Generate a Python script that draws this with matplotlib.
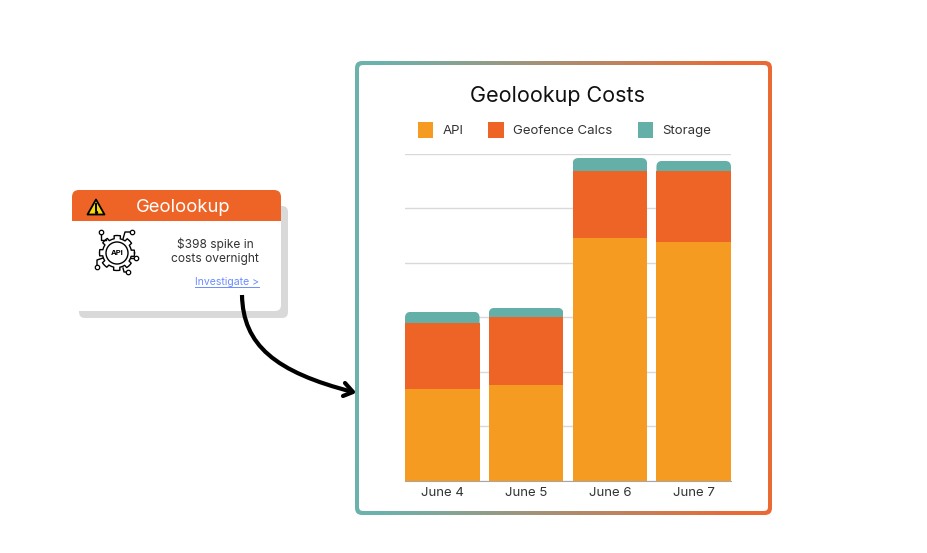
import numpy as np
import matplotlib
matplotlib.use("Agg")
import matplotlib.pyplot as plt
from matplotlib.patches import FancyBboxPatch, PathPatch, Polygon, Circle, Rectangle
from matplotlib.path import Path
from matplotlib.colors import LinearSegmentedColormap

W, H = 927, 553

days = ["June 4", "June 5", "June 6", "June 7"]
api = [253, 264, 669, 658]
geofence = [182, 187, 184, 194]
storage = [30, 25, 36, 29]
y_ticks = [0, 150, 300, 450, 600, 750, 900]

ORANGE = "#f59b22"
RED = "#ed6426"
TEAL = "#64b0a9"
GRID = "#d9d9d9"

plt.rcParams["font.family"] = ["Inter", "DejaVu Sans"]
fig = plt.figure(figsize=(W / 100, H / 100), dpi=100)

# overlay in pixel coordinates for the card, frame and arrow
bg = fig.add_axes([0, 0, 1, 1])
bg.set_xlim(0, W)
bg.set_ylim(H, 0)
bg.axis("off")


def rbox(x0, y0, x1, y1, r, **kw):
    p = FancyBboxPatch((x0 + r, y0 + r), x1 - x0 - 2 * r, y1 - y0 - 2 * r,
                       boxstyle=f"round,pad={r},rounding_size={r}", **kw)
    bg.add_patch(p)
    return p


# gradient frame
cmap = LinearSegmentedColormap.from_list("frame", [(0, "#6bb2ac"), (0.06, "#6bb2ac"), (0.92, "#ea6a34"), (1, "#ea6a34")])
outer = rbox(355, 61, 772, 515, 7, fc="none", ec="none")
grad = np.linspace(0, 1, 256).reshape(1, 256)
im = bg.imshow(grad, extent=[355, 772, 515, 61], cmap=cmap, aspect="auto", zorder=1)
im.set_clip_path(outer)
bg.set_xlim(0, W)
bg.set_ylim(H, 0)
rbox(359, 65, 768, 511, 4, fc="white", ec="none", zorder=2)

# alert card
rbox(79, 206, 288, 318, 6, fc="#d9d9d9", ec="none", zorder=1)
rbox(72, 190, 281, 311, 6, fc="white", ec="none", zorder=2)
head = rbox(72, 190, 281, 240, 7, fc="none", ec="none")
r = Rectangle((72, 190), 209, 31, fc=RED, ec="none", zorder=3)
bg.add_patch(r)
r.set_clip_path(head)
bg.text(183.5, 207.5, "Geolookup", color="white", fontsize=13.3, ha="center", va="center", zorder=4)
bg.add_patch(Polygon([(96, 199.5), (104.5, 214.5), (87.5, 214.5)], closed=True, fc="#f5d90a", ec="black",
                     lw=1.3, joinstyle="round", zorder=4))
bg.plot([96, 96], [204, 210], color="black", lw=1.4, zorder=5)
bg.plot([96], [212.3], marker="o", ms=1.4, color="black", zorder=5)
bg.text(215, 244, "$398 spike in", color="#333333", fontsize=8.6, ha="center", va="center", zorder=4)
bg.text(215, 259, "costs overnight", color="#333333", fontsize=8.6, ha="center", va="center", zorder=4)
bg.text(259, 282, "Investigate >", color="#6a8cff", fontsize=7.5, ha="right", va="center", zorder=4)
bg.plot([195, 259], [286.5, 286.5], color="#6a8cff", lw=0.7, zorder=4)

# gear icon
cx, cy = 117, 253
ang = np.linspace(0, 2 * np.pi, 193)
rad = 14.5 + 3 * (np.cos(8 * ang) > 0)
bg.plot(cx + rad * np.cos(ang), cy + rad * np.sin(ang), color="black", lw=1.0, zorder=4)
bg.add_patch(Circle((cx, cy), 11, fc="white", ec="black", lw=1.0, zorder=4))
bg.text(cx, cy, "API", color="black", fontsize=5.5, fontweight="bold", ha="center", va="center", zorder=5)
for xs, ys in [([101, 101, 106], [232, 240, 240]), ([132, 125, 123], [232, 232, 239]),
               ([136, 131], [258, 258]), ([97, 97, 103], [267, 260, 258]),
               ([128, 124, 123], [272, 272, 268])]:
    bg.plot(xs, ys, color="black", lw=1.0, zorder=4)
    bg.plot(xs[0], ys[0], marker="o", ms=3.2, mfc="white", mec="black", mew=0.9, zorder=5)

# arrow
verts = [(242, 295), (243, 345), (275, 372), (353, 392)]
bg.add_patch(PathPatch(Path(verts, [Path.MOVETO, Path.CURVE4, Path.CURVE4, Path.CURVE4]),
                       fc="none", ec="black", lw=3, capstyle="butt", zorder=6))
bg.plot([345, 353, 343], [383, 392, 396], color="black", lw=3, solid_capstyle="round",
        solid_joinstyle="round", zorder=6)

# bar chart
ax = fig.add_axes([405 / W, 1 - 480.5 / H, (731 - 405) / W, (480.5 - 154) / H])
ax.patch.set_alpha(0)
x = np.arange(len(days))
bw = 0.89
api = np.array(api)
geofence = np.array(geofence)
storage = np.array(storage)
ax.bar(x, api, bw, color=ORANGE, label="API", zorder=3)
ax.bar(x, geofence, bw, bottom=api, color=RED, label="Geofence Calcs", zorder=3)
tops = ax.bar(x, storage, bw, bottom=api + geofence, color=TEAL, label="Storage", zorder=3)
ax.set_xlim(-bw / 2, len(days) - 1 + bw / 2)
ax.set_ylim(0, y_ticks[-1])
ax.set_yticks(y_ticks)
ax.set_yticklabels([])
ax.set_xticks(x)
ax.set_xticklabels(days, fontsize=9.5, color="#333333")
ax.tick_params(length=0, pad=5)
ax.grid(axis="y", color=GRID, lw=1, zorder=0)
ax.set_axisbelow(True)
for s in ["top", "left", "right"]:
    ax.spines[s].set_visible(False)
ax.spines["bottom"].set_color("#a6a6a6")

# round the top corners of the storage segments
aspect = (ax.get_ylim()[1] / (480.5 - 154)) / ((ax.get_xlim()[1] - ax.get_xlim()[0]) / (731 - 405))
for b in tops:
    rx = 0.07
    ry = rx * aspect
    clip = FancyBboxPatch((b.get_x() + rx, b.get_y() - 100), bw - 2 * rx, b.get_height() + 100 - ry,
                          boxstyle=f"round,pad={rx},rounding_size={rx}", mutation_aspect=aspect,
                          transform=ax.transData)
    b.set_clip_path(clip)

fig.text(557 / W, 1 - 95.5 / H, "Geolookup Costs", fontsize=15.5, color="#111111", ha="center", va="center")
ax.legend(loc="center", bbox_to_anchor=((564.5 - 405) / (731 - 405), 1 + 24 / 327), ncols=3, frameon=False,
          fontsize=9.5, handlelength=1.2, handleheight=1.49, handletextpad=0.7, columnspacing=1.88,
          labelcolor="#333333", borderaxespad=0)

fig.savefig("out.png", dpi=100)
